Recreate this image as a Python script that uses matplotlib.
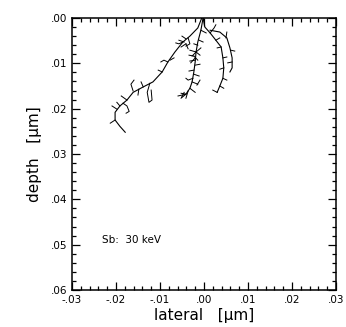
import matplotlib
matplotlib.use('Agg')
from matplotlib import pyplot as plt
from matplotlib.ticker import MultipleLocator, FuncFormatter

# Ion trajectories, lateral / depth in Angstrom
traj_a_x = [-5, -14, -32, -48, -66, -82, -95, -116, -138, -161, -175, -191, -202, -202, -191, -179]
traj_a_y = [0, 22, 40, 53, 75, 97, 119, 141, 152, 164, 181, 194, 208, 225, 239, 252]
traj_b_x = [-2, -7, -14, -18, -20, -23, -27, -32, -41, -50]
traj_b_y = [0, 27, 53, 75, 97, 119, 141, 155, 168, 175]
traj_c_x = [-2, 2, 14, 27, 39, 43, 45, 43, 36, 30]
traj_c_y = [0, 20, 33, 49, 64, 88, 110, 133, 150, 164]
traj_d_x = [14, 36, 52, 59, 64, 64, 59]
traj_d_y = [27, 31, 44, 66, 88, 110, 119]

# recoil branches (x list, y list), Angstrom
branches = [
    ([-123, -129, -125, -118, -120], [144, 164, 186, 181, 159]),
    ([-161, -166, -159], [161, 146, 137]),
    ([-175, -188], [181, 172]),
    ([-184, -175, -170, -177], [188, 194, 206, 210]),
    ([-198, -209], [201, 194]),
    ([-202, -213], [225, 232]),
    ([-191, -198], [194, 186]),
    ([-82, -91, -98], [97, 93, 97]),
    ([-77, -68], [93, 88]),
    ([-48, -57, -64], [53, 57, 55]),
    ([-41, -50], [46, 40]),
    ([-36, -32, -41], [44, 57, 62]),
    ([-41, -52], [57, 64]),
    ([-41, -36], [57, 68]),
    ([-45, -57], [53, 49]),
    ([-95, -104], [119, 115]),
    ([-148, -150], [157, 170]),
    ([-138, -143], [152, 141]),
    ([-18, -32], [75, 71]),
    ([-18, -7], [75, 66]),
    ([-18, -27], [75, 84]),
    ([-18, -9], [75, 82]),
    ([-23, -34], [84, 82]),
    ([-23, -14], [84, 93]),
    ([-20, -30], [88, 99]),
    ([-20, -32], [93, 95]),
    ([-20, -9], [104, 102]),
    ([-23, -34], [115, 117]),
    ([-23, -11], [124, 128]),
    ([-25, -36, -41], [133, 137, 133]),
    ([-27, -14], [141, 146]),
    ([-32, -20], [155, 164]),
    ([-41, -52], [168, 166]),
    ([-36, -41], [161, 177]),
    ([-41, -59], [168, 172]),
    ([-45, -52], [164, 177]),
    ([-11, -2], [49, 53]),
    ([-14, -23], [60, 57]),
    ([-7, 5], [27, 33]),
    ([-16, -9], [148, 137]),
    ([14, 23, 27], [33, 22, 15]),
    ([27, 36], [49, 44]),
    ([39, 30], [64, 66]),
    ([43, 52], [88, 86]),
    ([45, 36], [110, 113]),
    ([43, 52], [133, 137]),
    ([36, 45], [150, 155]),
    ([30, 20], [164, 159]),
    ([50, 52], [44, 31]),
    ([61, 70], [71, 73]),
    ([64, 54], [97, 99]),
]

label_text = 'Sb:  30 keV'

plt.rcParams['font.family'] = 'DejaVu Sans'
fig = plt.figure(figsize=(3.46, 3.27), dpi=100)
ax = fig.add_axes([0.208, 0.113, 0.763, 0.832])

ang = 10000.0  # Angstrom -> micrometre
for xs, ys in [(traj_a_x, traj_a_y), (traj_b_x, traj_b_y),
               (traj_c_x, traj_c_y), (traj_d_x, traj_d_y)]:
    ax.plot([v / ang for v in xs], [v / ang for v in ys], color='black', lw=0.8)
for xs, ys in branches:
    ax.plot([v / ang for v in xs], [v / ang for v in ys], color='black', lw=0.7)

ax.set_xlim(-0.03, 0.03)
ax.set_ylim(0.06, 0.0)

def fmt(v, pos):
    s = '%.2f' % v
    if s.startswith('-0'):
        s = '-' + s[2:]
    elif s.startswith('0'):
        s = s[1:]
    return s

ax.xaxis.set_major_locator(MultipleLocator(0.01))
ax.xaxis.set_minor_locator(MultipleLocator(0.002))
ax.yaxis.set_major_locator(MultipleLocator(0.01))
ax.yaxis.set_minor_locator(MultipleLocator(0.002))
ax.xaxis.set_major_formatter(FuncFormatter(fmt))
ax.yaxis.set_major_formatter(FuncFormatter(fmt))
ax.tick_params(which='both', direction='in', top=True, right=True, labelsize=7.5, width=0.9)
ax.tick_params(which='major', length=6)
ax.tick_params(which='minor', length=3)
for s in ax.spines.values():
    s.set_linewidth(1.1)

ax.set_xlabel('lateral   [\u00b5m]', fontsize=11, labelpad=2)
ax.set_ylabel('depth   [\u00b5m]', fontsize=11, labelpad=6)
ax.text(-0.0232, 0.049, label_text, fontsize=7.5, va='center')

fig.savefig('out.png', dpi=100)
